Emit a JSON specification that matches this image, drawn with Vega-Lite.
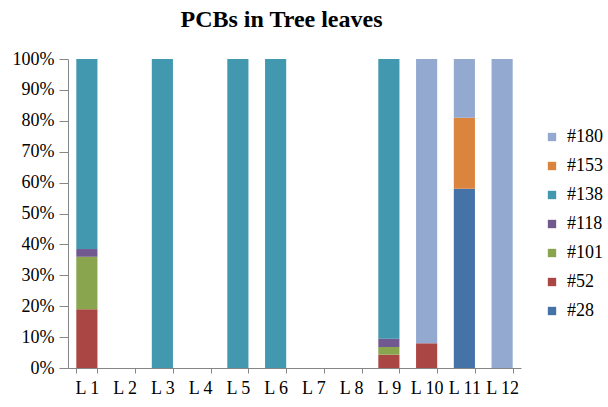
{
  "$schema": "https://vega.github.io/schema/vega-lite/v6.json",
  "width": 453,
  "height": 309,
  "autosize": {"type": "none"},
  "padding": {"left": 68, "top": 59, "right": 87, "bottom": 39},
  "background": "white",
  "title": {
    "text": "PCBs in Tree leaves",
    "font": "Liberation Serif",
    "fontSize": 24,
    "fontWeight": "bold",
    "color": "black",
    "anchor": "middle",
    "dx": -13,
    "offset": 18
  },
  "data": {
    "values": [
      {"loc": "L 1", "pcb": "#52", "k": 2, "v": 19},
      {"loc": "L 1", "pcb": "#101", "k": 3, "v": 17},
      {"loc": "L 1", "pcb": "#118", "k": 4, "v": 2.5},
      {"loc": "L 1", "pcb": "#138", "k": 5, "v": 61.5},
      {"loc": "L 3", "pcb": "#138", "k": 5, "v": 100},
      {"loc": "L 5", "pcb": "#138", "k": 5, "v": 100},
      {"loc": "L 6", "pcb": "#138", "k": 5, "v": 100},
      {"loc": "L 9", "pcb": "#52", "k": 2, "v": 4.3},
      {"loc": "L 9", "pcb": "#101", "k": 3, "v": 2.5},
      {"loc": "L 9", "pcb": "#118", "k": 4, "v": 2.7},
      {"loc": "L 9", "pcb": "#138", "k": 5, "v": 90.5},
      {"loc": "L 10", "pcb": "#52", "k": 2, "v": 8},
      {"loc": "L 10", "pcb": "#180", "k": 7, "v": 92},
      {"loc": "L 11", "pcb": "#28", "k": 1, "v": 58},
      {"loc": "L 11", "pcb": "#153", "k": 6, "v": 23},
      {"loc": "L 11", "pcb": "#180", "k": 7, "v": 19},
      {"loc": "L 12", "pcb": "#180", "k": 7, "v": 100}
    ]
  },
  "mark": {"type": "bar"},
  "encoding": {
    "x": {
      "field": "loc",
      "type": "nominal",
      "title": null,
      "scale": {
        "domain": ["L 1", "L 2", "L 3", "L 4", "L 5", "L 6", "L 7", "L 8", "L 9", "L 10", "L 11", "L 12"],
        "paddingInner": 0.44,
        "paddingOuter": 0.22
      },
      "axis": {
        "labelAngle": 0,
        "labelFont": "Liberation Serif",
        "labelFontSize": 18,
        "labelColor": "black",
        "labelOverlap": false,
        "labelBound": false,
        "labelPadding": 6,
        "tickBand": "extent",
        "tickColor": "#868686",
        "tickSize": 5,
        "domainColor": "#868686",
        "grid": false
      }
    },
    "y": {
      "field": "v",
      "type": "quantitative",
      "stack": "normalize",
      "title": null,
      "scale": {"domain": [0, 1]},
      "axis": {
        "format": ".0%",
        "values": [0, 0.1, 0.2, 0.3, 0.4, 0.5, 0.6, 0.7, 0.8, 0.9, 1],
        "labelFont": "Liberation Serif",
        "labelFontSize": 18,
        "labelColor": "black",
        "labelPadding": 5,
        "tickColor": "#868686",
        "tickSize": 9,
        "domainColor": "#868686",
        "grid": false
      }
    },
    "color": {
      "field": "pcb",
      "type": "nominal",
      "scale": {
        "domain": ["#180", "#153", "#138", "#118", "#101", "#52", "#28"],
        "range": ["#93A9CF", "#DB843D", "#4198AF", "#71588F", "#89A54E", "#AA4643", "#4572A7"]
      },
      "legend": {
        "title": null,
        "orient": "none",
        "legendX": 475,
        "legendY": 69,
        "padding": 0,
        "symbolType": "square",
        "symbolSize": 70,
        "symbolStrokeWidth": 0,
        "labelFont": "Liberation Serif",
        "labelFontSize": 18,
        "labelColor": "black",
        "labelOffset": 6,
        "rowPadding": 11
      }
    },
    "order": {"field": "k", "type": "quantitative", "sort": "ascending"}
  },
  "config": {"view": {"stroke": null}}
}
